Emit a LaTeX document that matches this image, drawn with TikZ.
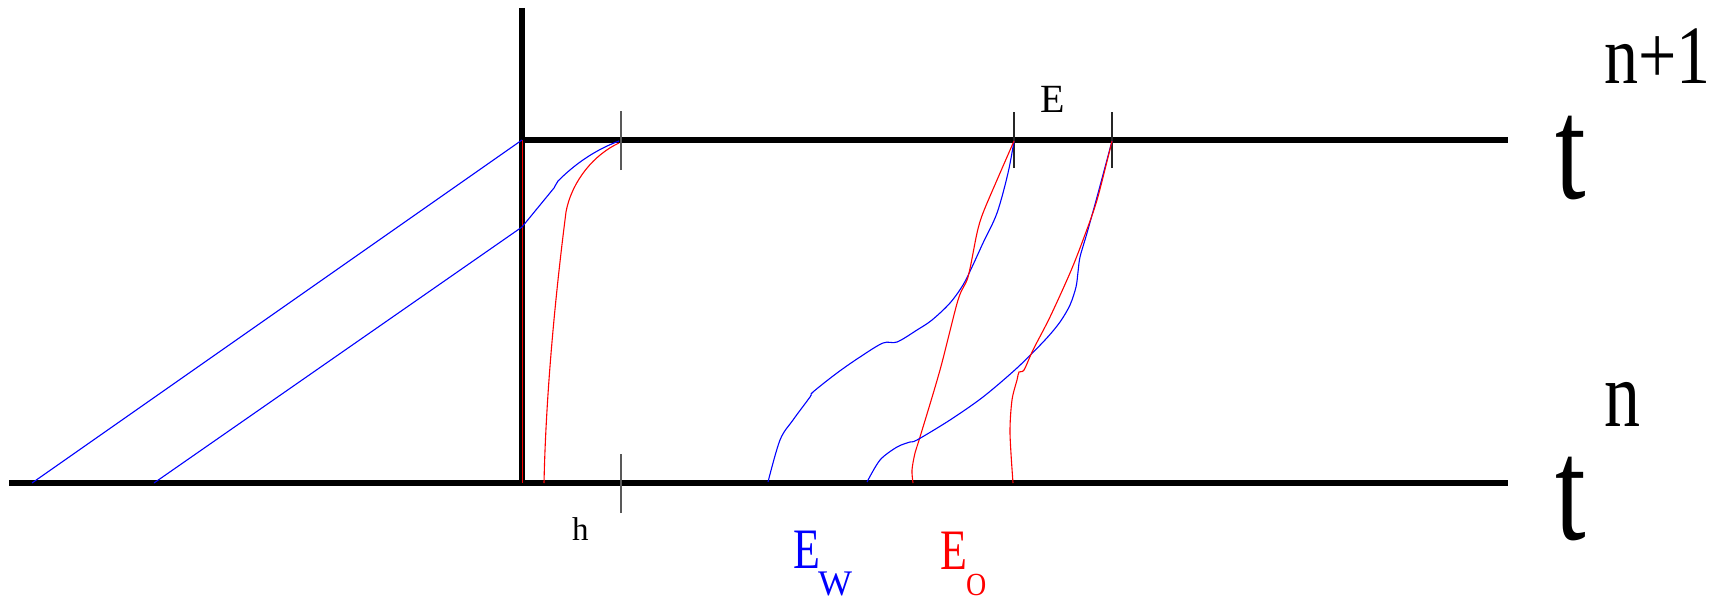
\documentclass[tikz,border=0pt]{standalone}
\usepackage{fontspec}
\setmainfont{Liberation Serif}
\usepackage{graphicx}
\begin{document}
\begin{tikzpicture}[x=1pt,y=-1pt,
  axisline/.style={line width=6.8pt, black},
  tickmark/.style={line width=1.3pt, black!65},
  wcurve/.style={blue, line width=1.1pt},
  ocurve/.style={red, line width=1.1pt},
  lbl/.style={inner sep=0pt, anchor=base west}]
\useasboundingbox (0,0) rectangle (1731,602);
% key points
\coordinate (vtop) at (522,8);
\coordinate (corner) at (522,140);
\coordinate (origin) at (522,483);
\coordinate (leftend) at (9,483);
\coordinate (tr) at (1508,140);
\coordinate (br) at (1508,483);
\coordinate (hT) at (621,140);
\coordinate (hB) at (621,483);
\coordinate (e1) at (1014,140);
\coordinate (e2) at (1112,140);
% thick axes
\draw[axisline] (vtop) -- (origin);
\draw[axisline] (corner) -- (tr);
\draw[axisline] (leftend) -- (br);
% red line along the vertical axis
\draw[ocurve] (522.5,140) -- (522.5,483);
% tick marks
\draw[tickmark] ([yshift=-30pt]hT) -- ([yshift=29pt]hT);
\draw[tickmark] ([yshift=-30pt]hB) -- ([yshift=29pt]hB);
\draw[tickmark, black!85] ([yshift=-28pt]e1) -- ([yshift=28pt]e1);
\draw[tickmark, black!85] ([yshift=-28pt]e2) -- ([yshift=28pt]e2);
% blue straight characteristics
\draw[wcurve] (32,483) -- (corner);
\draw[wcurve] (154,483) -- (522,227) -- (554,188)
  .. controls (556,184) and (557,183) .. (558,181)
  .. controls (575,164) and (595,150) .. (619,141);
% red curve near the wall
\draw[ocurve] (544,483) .. controls (546,390) and (556,290) .. (566,212)
  .. controls (572,180) and (595,154) .. (619,143);
% left blue curve
\draw[wcurve] plot[smooth, tension=0.55] coordinates {
  (768,482) (780,440) (793,420) (810,397) (813,392) (837,373) (860,357)
  (883,343) (897,342) (917,330) (932,320) (950,303) (963,285) (972,267)
  (983,243) (997,213) (1008,173) (1014,141)};
% left red curve
\draw[ocurve] plot[smooth, tension=0.5] coordinates {
  (913,483) (912,470) (915,453) (920,437) (940,370) (958,300) (968,277)
  (977,233) (983,213) (997,180) (1014,141)};
% right blue curve
\draw[wcurve] plot[smooth, tension=0.5] coordinates {
  (867,482) (880,460) (897,447) (910,442) (917,440) (950,420) (983,397)
  (1017,368) (1045,340) (1060,322) (1070,305) (1076,287) (1078,272)
  (1080,257) (1087,233) (1097,197) (1112,141)};
% right red curve
\draw[ocurve] plot[smooth, tension=0.5] coordinates {
  (1013,483) (1010,433) (1012,400) (1017,380) (1019,372) (1024,370)
  (1033,350) (1050,317) (1070,273) (1083,240) (1097,200) (1112,141)};
% labels
\node[lbl, font=\fontsize{40}{40}\selectfont] (lE) at (1040,112) {E};
\node[lbl, font=\fontsize{33}{33}\selectfont] (lh) at (572,540) {h};
\node[lbl, blue, font=\fontsize{44}{44}\selectfont] (lEw) at (793,568) {\scalebox{1}[1.3]{E}};
\node[lbl, blue, font=\fontsize{36}{36}\selectfont] (lW) at (818,595) {W};
\node[lbl, red, font=\fontsize{44}{44}\selectfont] (lEo) at (940,569) {\scalebox{1}[1.3]{E}};
\node[lbl, red, font=\fontsize{28}{28}\selectfont] (lO) at (966,595) {\scalebox{1}[1.15]{O}};
\node[lbl, font=\fontsize{110}{110}\selectfont] (t1) at (1555,198) {\scalebox{1}[1.33]{t}};
\node[lbl, font=\fontsize{68}{68}\selectfont] (n1) at (1604,83) {\scalebox{1}[1.22]{n+1}};
\node[lbl, font=\fontsize{110}{110}\selectfont] (t0) at (1555,539) {\scalebox{1}[1.33]{t}};
\node[lbl, font=\fontsize{72}{72}\selectfont] (n0) at (1604,426) {\scalebox{1}[1.3]{n}};
\end{tikzpicture}
\end{document}
